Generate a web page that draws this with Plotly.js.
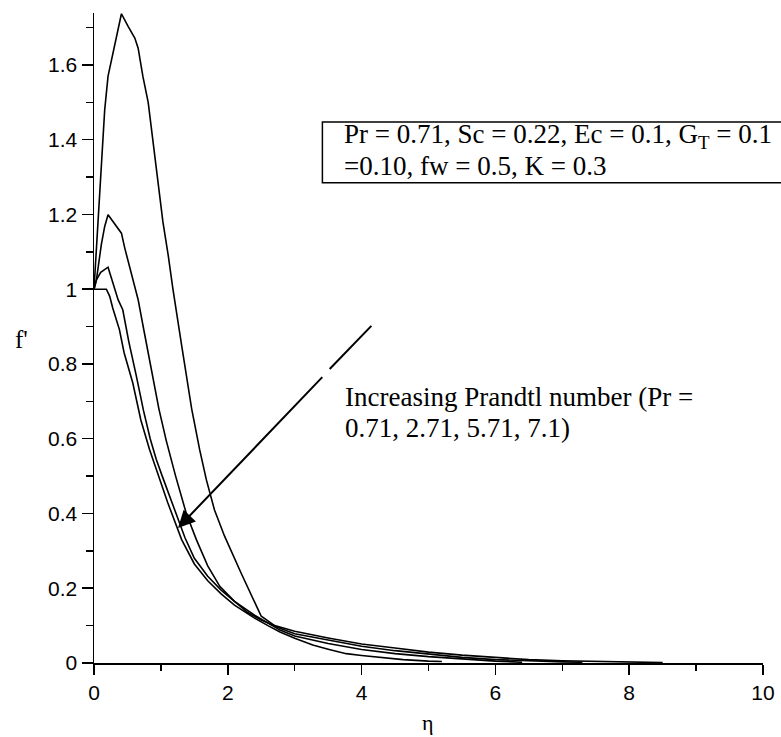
<!DOCTYPE html>
<html>
<head>
<meta charset="utf-8">
<script src="https://cdn.plot.ly/plotly-3.0.1.min.js"></script>
<style>html,body{margin:0;padding:0;background:#fff;}#chart{width:781px;height:737px;}</style>
</head>
<body>
<div id="chart"></div>
<script>
// Pr = 0.71
var etaA = [0, 0.02, 0.04, 0.08, 0.12, 0.16, 0.21, 0.26, 0.33, 0.41, 0.51, 0.61, 0.66, 0.73, 0.81, 0.88, 0.96, 1.03, 1.11, 1.18, 1.31, 1.46, 1.58, 1.68, 1.8, 1.95, 2.2, 2.38, 2.5, 2.7, 3.0, 3.5, 4.0, 4.5, 5.0, 5.5, 6.0, 6.5, 7.0, 7.5, 8.0, 8.5];
var fA   = [1.0, 1.06, 1.12, 1.26, 1.39, 1.48, 1.57, 1.614, 1.667, 1.737, 1.703, 1.672, 1.645, 1.57, 1.50, 1.40, 1.28, 1.18, 1.09, 1.00, 0.85, 0.68, 0.57, 0.49, 0.41, 0.34, 0.24, 0.17, 0.125, 0.10, 0.085, 0.067, 0.051, 0.040, 0.029, 0.021, 0.014, 0.009, 0.006, 0.004, 0.002, 0.001];
// Pr = 2.71
var etaB = [0, 0.036, 0.11, 0.16, 0.21, 0.28, 0.36, 0.41, 0.46, 0.51, 0.58, 0.66, 0.73, 0.81, 0.88, 0.97, 1.08, 1.22, 1.38, 1.53, 1.7, 1.88, 2.1, 2.3, 2.5, 2.78, 3.0, 3.5, 4.0, 4.5, 5.0, 5.5, 6.0, 6.5, 7.0, 7.3];
var fB   = [1.0, 1.025, 1.12, 1.168, 1.199, 1.181, 1.162, 1.150, 1.110, 1.074, 1.025, 0.972, 0.905, 0.83, 0.765, 0.68, 0.595, 0.50, 0.40, 0.33, 0.26, 0.205, 0.165, 0.135, 0.115, 0.093, 0.078, 0.061, 0.045, 0.033, 0.023, 0.015, 0.009, 0.005, 0.003, 0.002];
// Pr = 5.71
var etaC = [0, 0.036, 0.1, 0.21, 0.26, 0.31, 0.36, 0.43, 0.52, 0.63, 0.74, 0.84, 0.93, 1.02, 1.2, 1.36, 1.5, 1.7, 1.9, 2.1, 2.4, 2.6, 2.78, 3.0, 3.5, 4.0, 4.5, 5.0, 5.5, 6.0, 6.4];
var fC   = [1.0, 1.025, 1.045, 1.059, 1.030, 1.000, 0.972, 0.945, 0.86, 0.77, 0.675, 0.60, 0.545, 0.50, 0.41, 0.335, 0.28, 0.232, 0.195, 0.165, 0.128, 0.108, 0.088, 0.072, 0.052, 0.036, 0.025, 0.017, 0.010, 0.005, 0.002];
// Pr = 7.1
var etaD = [0, 0.185, 0.235, 0.28, 0.38, 0.45, 0.58, 0.70, 0.83, 0.97, 1.1, 1.31, 1.5, 1.7, 1.9, 2.1, 2.4, 2.6, 2.78, 3.0, 3.27, 3.5, 3.77, 4.0, 4.3, 4.62, 5.0, 5.2];
var fD   = [1.0, 1.0, 0.981, 0.950, 0.892, 0.83, 0.749, 0.65, 0.571, 0.50, 0.43, 0.33, 0.265, 0.22, 0.185, 0.155, 0.12, 0.10, 0.083, 0.066, 0.048, 0.037, 0.025, 0.020, 0.014, 0.009, 0.005, 0.004];

var xTicks = [0, 2, 4, 6, 8, 10];
var yTicks = [0, 0.2, 0.4, 0.6, 0.8, 1, 1.2, 1.4, 1.6];

var boxLine1 = 'Pr = 0.71, Sc = 0.22, Ec = 0.1, G<sub>T</sub> = 0.1';
var boxLine2 = '=0.10, fw = 0.5, K = 0.3';
var noteLine1 = 'Increasing Prandtl number (Pr =';
var noteLine2 = '0.71, 2.71, 5.71, 7.1)';

function curve(x, y) {
  return {x: x, y: y, type: 'scatter', mode: 'lines', line: {color: '#000', width: 1.6}, hoverinfo: 'none', showlegend: false};
}
var traces = [curve(etaA, fA), curve(etaB, fB), curve(etaC, fC), curve(etaD, fD)];

var serif = 'Liberation Serif, Times New Roman, serif';
var tickFont = {family: 'Liberation Sans, Arial, sans-serif', size: 21, color: '#000'};
var textFont = {family: serif, size: 27, color: '#000'};

var layout = {
  width: 781, height: 737,
  margin: {l: 94, r: 18, t: 13, b: 74, pad: 0},
  paper_bgcolor: '#fff', plot_bgcolor: '#fff',
  showlegend: false,
  xaxis: {
    range: [0, 10], tickvals: xTicks, ticktext: xTicks.map(String),
    showgrid: false, zeroline: false, showline: true, linecolor: '#000', linewidth: 1.5,
    ticks: 'outside', ticklen: 10, tickwidth: 1.5, tickcolor: '#000',
    minor: {dtick: 1, ticks: 'outside', ticklen: 6, tickwidth: 1.5, tickcolor: '#000', showgrid: false},
    tickfont: tickFont, fixedrange: true
  },
  yaxis: {
    range: [0, 1.739], tickvals: yTicks, ticktext: yTicks.map(String),
    showgrid: false, zeroline: false, showline: true, linecolor: '#000', linewidth: 1.5,
    ticks: 'outside', ticklen: 11, tickwidth: 1.5, tickcolor: '#000',
    minor: {dtick: 0.1, ticks: 'outside', ticklen: 7, tickwidth: 1.5, tickcolor: '#000', showgrid: false},
    tickfont: tickFont, fixedrange: true
  },
  shapes: [
    {type: 'rect', xref: 'paper', yref: 'paper', x0: 0.3414, x1: 1.2, y0: 0.7387, y1: 0.8324,
     line: {color: '#000', width: 1.5}, fillcolor: 'rgba(0,0,0,0)'},
    {type: 'line', xref: 'x', yref: 'y', x0: 4.146, y0: 0.902, x1: 3.523, y1: 0.7866,
     line: {color: '#000', width: 2}}
  ],
  annotations: [
    {xref: 'paper', yref: 'paper', x: 0.3703, y: 0.8109, xanchor: 'left', yanchor: 'middle', showarrow: false, text: boxLine1, font: textFont},
    {xref: 'paper', yref: 'paper', x: 0.3703, y: 0.7648, xanchor: 'left', yanchor: 'middle', showarrow: false, text: boxLine2, font: textFont},
    {xref: 'paper', yref: 'paper', x: 0.3718, y: 0.4097, xanchor: 'left', yanchor: 'middle', showarrow: false, text: noteLine1, font: textFont},
    {xref: 'paper', yref: 'paper', x: 0.3718, y: 0.3620, xanchor: 'left', yanchor: 'middle', showarrow: false, text: noteLine2, font: textFont},
    {xref: 'x', yref: 'y', axref: 'x', ayref: 'y', x: 1.256, y: 0.3615, ax: 3.434, ay: 0.7687,
     showarrow: true, arrowhead: 2, arrowsize: 1.7, arrowwidth: 2, arrowcolor: '#000', text: ''},
    {xref: 'paper', yref: 'paper', x: -0.109, y: 0.498, xanchor: 'center', yanchor: 'middle', showarrow: false, text: "f'", font: {family: serif, size: 25, color: '#000'}},
    {xref: 'paper', yref: 'paper', x: 0.499, y: -0.092, xanchor: 'center', yanchor: 'middle', showarrow: false, text: 'η', font: {family: serif, size: 22, color: '#000'}}
  ]
};

Plotly.newPlot('chart', traces, layout, {displayModeBar: false, staticPlot: true});
</script>
</body>
</html>
